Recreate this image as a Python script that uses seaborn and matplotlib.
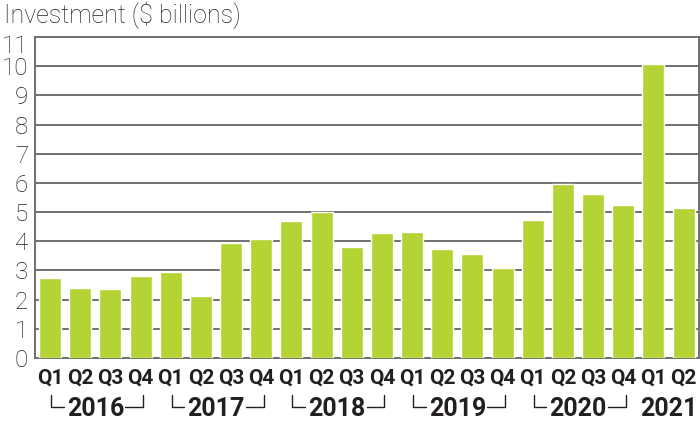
import matplotlib
matplotlib.use("Agg")
import matplotlib.pyplot as plt
import matplotlib.transforms as mtransforms
import seaborn as sns
import pandas as pd

# Quarterly investment ($ billions)
years = ["2016", "2017", "2018", "2019", "2020", "2021"]
quarters = ["Q1", "Q2", "Q3", "Q4"]
investment = [
    2.75, 2.40, 2.36, 2.81,   # 2016
    2.96, 2.13, 3.93, 4.08,   # 2017
    4.69, 5.00, 3.81, 4.27,   # 2018
    4.32, 3.73, 3.57, 3.09,   # 2019
    4.73, 5.97, 5.62, 5.23,   # 2020
    10.07, 5.15,              # 2021
]
y_ticks = list(range(0, 12))

periods = [f"{y} {q}" for y in years for q in quarters][:len(investment)]
quarter_labels = [p.split()[1] for p in periods]
df = pd.DataFrame({"period": periods, "value": investment})

BAR_COLOR = "#b4d335"
GRID_COLOR = "#707070"
TEXT_COLOR = "#231f20"

sns.set_style("white")
plt.rcParams["font.family"] = ["Roboto", "DejaVu Sans"]

fig = plt.figure(figsize=(7, 4.21), dpi=100)
ax = fig.add_axes([0.05, 0.150, 0.948, 0.762])

sns.barplot(data=df, x="period", y="value", color=BAR_COLOR, width=0.73,
            saturation=1, ax=ax, zorder=3)

ax.set_ylim(0, 11)
ax.set_xlim(-0.5, len(investment) - 0.5)
ax.set_yticks(y_ticks)
ax.set_yticklabels([str(t) for t in y_ticks], fontsize=17.5, fontweight="light",
                   color=TEXT_COLOR)
ax.yaxis.grid(True, color=GRID_COLOR, linewidth=1.4, zorder=0)
ax.set_axisbelow(True)
ax.tick_params(axis="y", length=0, pad=5)
ax.tick_params(axis="x", length=0, pad=8)
ax.set_xticks(range(len(periods)))
ax.set_xticklabels(quarter_labels, fontsize=15, fontweight="bold", color=TEXT_COLOR)
ax.set_xlabel("")
ax.set_ylabel("")
for side in ["left", "right", "top", "bottom"]:
    ax.spines[side].set_visible(True)
    ax.spines[side].set_color(GRID_COLOR)
    ax.spines[side].set_linewidth(1.4)

# top tick label sits a little lower so it clears the title
top_label = ax.get_yticklabels()[-1]
top_label.set_transform(top_label.get_transform()
                        + mtransforms.ScaledTranslation(0, -5 / 72, fig.dpi_scale_trans))

# Year labels with bracket lines under the quarter ticks
trans = mtransforms.blended_transform_factory(ax.transData, ax.transAxes)
y_text = -0.158
y_top = -0.115
y_bot = -0.152
for i, yr in enumerate(years):
    first = i * 4
    last = min(first + 3, len(investment) - 1)
    center = (first + last) / 2
    ax.text(center, y_text, yr, transform=trans, ha="center", va="center",
            fontsize=18, fontweight="bold", color=TEXT_COLOR, clip_on=False)
    if last - first == 3:
        kw = dict(transform=trans, color=TEXT_COLOR, linewidth=1.0, clip_on=False)
        ax.plot([first + 0.03, first + 0.03, first + 0.45], [y_top, y_bot, y_bot], **kw)
        ax.plot([last - 0.5, last + 0.08, last + 0.08], [y_bot, y_bot, y_top], **kw)

fig.text(0.006, 0.963, "Investment ($ billions)", fontsize=18, fontweight="light",
         color=TEXT_COLOR, ha="left", va="center")

fig.savefig("out.png", dpi=100)
